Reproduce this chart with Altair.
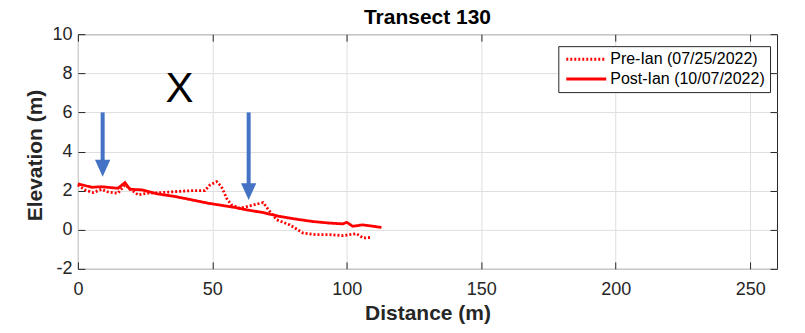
import altair as alt
import pandas as pd

# ---- data ----
pre_x = [0, 2.6, 5.7, 8.8, 11.2, 14.9, 17.5, 20.0, 22.4, 26.0, 31.1, 36.1, 42.3, 47.2,
         49.1, 51.6, 53.4, 55.3, 57.1, 60.2, 63.9, 68.9, 71.4, 73.9, 78.8, 83.8, 88.7,
         93.7, 98.6, 103.6, 106.1, 109.2]
pre_y = [2.29, 2.04, 1.90, 2.07, 1.93, 1.87, 2.29, 2.04, 1.78, 1.87, 1.90, 1.95, 2.00, 2.00,
         2.29, 2.46, 2.20, 1.61, 1.27, 1.10, 1.22, 1.39, 0.93, 0.51, 0.25, -0.17, -0.25,
         -0.25, -0.30, -0.20, -0.42, -0.39]

post_x = [0, 5.2, 8.8, 14.9, 17.5, 19.3, 23.7, 29.7, 36.1, 42.3, 48.3, 58.4, 62.7, 68.8,
          75.1, 81.3, 87.4, 93.7, 98.5, 100.0, 102.2, 105.9, 112.9]
post_y = [2.35, 2.17, 2.20, 2.12, 2.41, 2.07, 2.04, 1.83, 1.70, 1.53, 1.36, 1.14, 1.02, 0.88,
          0.68, 0.54, 0.42, 0.34, 0.30, 0.38, 0.18, 0.25, 0.12]

series_names = ["Pre-Ian (07/25/2022)", "Post-Ian (10/07/2022)"]

arrow_x = [9.2, 63.5]
arrow_top = [6.0, 6.0]
arrow_head = [3.14, 1.95]

mark_label = ["X"]
mark_label_x = [37.8]
mark_label_y = [6.54]

chart_title = "Transect 130"

x_ticks = [0, 50, 100, 150, 200, 250]
y_ticks = [-2, 0, 2, 4, 6, 8, 10]

# ---- tables ----
lines_df = pd.DataFrame({
    "x": pre_x + post_x,
    "y": pre_y + post_y,
    "series": [series_names[0]] * len(pre_x) + [series_names[1]] * len(post_x),
})
arrows_df = pd.DataFrame({"x": arrow_x, "top": arrow_top, "head": arrow_head})
text_df = pd.DataFrame({"x": mark_label_x, "y": mark_label_y, "t": mark_label})
title_df = pd.DataFrame({"t": [chart_title]})

FONT = "Liberation Sans"
INK = "#262626"
W, H = 700, 235
xscale = alt.Scale(domain=[0, 260], nice=False, zero=False)
yscale = alt.Scale(domain=[-2, 10], nice=False, zero=False)

main_x_axis = alt.Axis(values=x_ticks, title="Distance (m)", grid=True, gridColor="#dfdfdf",
                       domain=False, ticks=False, labelPadding=12, labelFontSize=18,
                       labelFlush=False, labelOverlap=False,
                       labelColor=INK, labelFont=FONT, titleFont=FONT, titleFontSize=21,
                       titleFontWeight="bold", titleColor=INK, titleBaseline="alphabetic",
                       titleY=51)
main_y_axis = alt.Axis(values=y_ticks, title="Elevation (m)", grid=True, gridColor="#dfdfdf",
                       domain=False, ticks=False, labelPadding=6, labelFontSize=18,
                       labelFlush=False, labelOverlap=False,
                       labelColor=INK, labelFont=FONT, labelExpr="datum.value + ''",
                       titleFont=FONT, titleFontSize=21, titleFontWeight="bold",
                       titleColor=INK, titleBaseline="alphabetic", titleX=-36, titleY=121,
                       titleAngle=270)


def tick_axis(orient, values):
    return alt.Axis(orient=orient, values=values, offset=-7, tickSize=7, tickColor=INK,
                    labels=False, domain=False, grid=False, title=None)


lines = alt.Chart(lines_df).mark_line(color="#ff0000", strokeWidth=2.8).encode(
    x=alt.X("x:Q", scale=xscale, axis=main_x_axis),
    y=alt.Y("y:Q", scale=yscale, axis=main_y_axis),
    strokeDash=alt.StrokeDash(
        "series:N",
        scale=alt.Scale(domain=series_names, range=[[2, 2], [1, 0]]),
        legend=alt.Legend(title=None, orient="none", legendX=481, legendY=12,
                          symbolType="M-1,0H7", symbolSize=100, symbolStrokeWidth=3,
                          symbolStrokeColor="#ff0000", labelFontSize=16, labelFont=FONT,
                          labelLimit=400,
                          labelColor="#000000", labelOffset=31, padding=5, rowPadding=4,
                          strokeColor=INK, fillColor="#ffffff", cornerRadius=0),
    ),
    order="x:Q",
)

shafts = alt.Chart(arrows_df).mark_rule(color="#4472c4", strokeWidth=4).encode(
    x=alt.X("x:Q", scale=xscale, axis=tick_axis("bottom", x_ticks)),
    y=alt.Y("top:Q", scale=yscale, axis=tick_axis("left", y_ticks)),
    y2="head:Q",
)

heads = alt.Chart(arrows_df).mark_point(
    shape="M-0.9,-1L0.9,-1L0,1Z", size=289, filled=True, color="#4472c4", opacity=1
).encode(
    x=alt.X("x:Q", scale=xscale, axis=tick_axis("top", x_ticks)),
    y=alt.Y("head:Q", scale=yscale, axis=tick_axis("right", y_ticks)),
)

label = alt.Chart(text_df).mark_text(
    font=FONT, fontSize=42, color="#000000", baseline="alphabetic", align="center"
).encode(
    x=alt.X("x:Q", scale=xscale, axis=None),
    y=alt.Y("y:Q", scale=yscale, axis=None),
    text="t:N",
)

title_mark = alt.Chart(title_df).mark_text(
    font=FONT, fontSize=21, fontWeight="bold", color="#000000",
    baseline="alphabetic", align="center"
).encode(
    x=alt.value(W / 2),
    y=alt.value(-10),
    text="t:N",
)

chart = alt.layer(lines, shafts, heads, label, title_mark).resolve_axis(
    x="independent", y="independent"
).properties(
    width=W,
    height=H,
    autosize="none",
    padding={"left": 70, "top": 26, "right": 20, "bottom": 60},
).configure_view(stroke=INK, strokeWidth=1)

chart.save("out.html", embed_options={"renderer": "svg", "actions": False})
